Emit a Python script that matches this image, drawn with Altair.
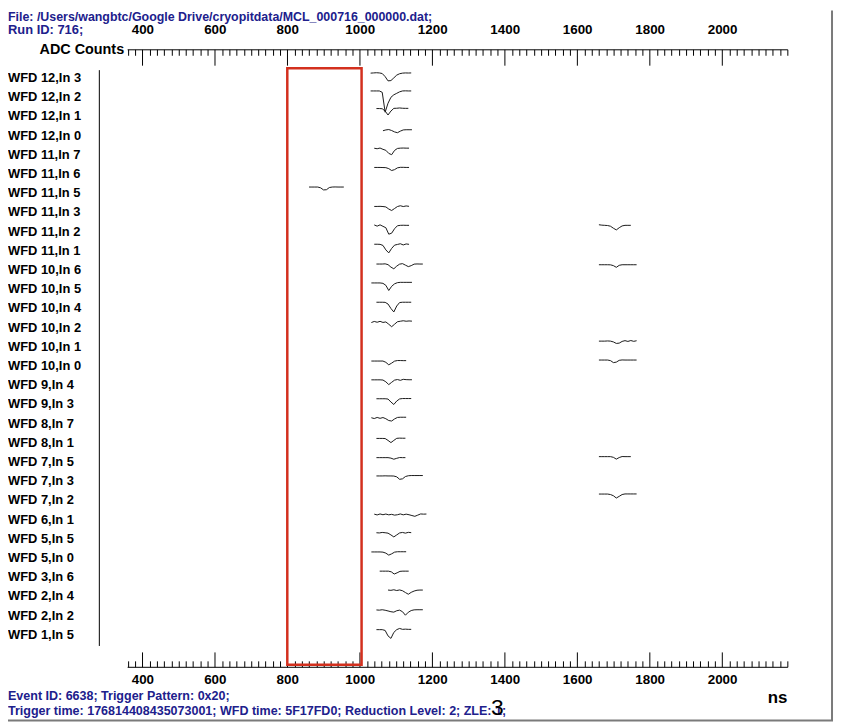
import altair as alt
import pandas as pd

# ---------------- data ----------------
CHANNELS = [
    "WFD 12,In 3", "WFD 12,In 2", "WFD 12,In 1", "WFD 12,In 0", "WFD 11,In 7",
    "WFD 11,In 6", "WFD 11,In 5", "WFD 11,In 3", "WFD 11,In 2", "WFD 11,In 1",
    "WFD 10,In 6", "WFD 10,In 5", "WFD 10,In 4", "WFD 10,In 2", "WFD 10,In 1",
    "WFD 10,In 0", "WFD 9,In 4", "WFD 9,In 3", "WFD 8,In 7", "WFD 8,In 1",
    "WFD 7,In 5", "WFD 7,In 3", "WFD 7,In 2", "WFD 6,In 1", "WFD 5,In 5",
    "WFD 5,In 0", "WFD 3,In 6", "WFD 2,In 4", "WFD 2,In 2", "WFD 1,In 5",
]

# which channel row each recorded waveform belongs to, and its first sample time (ns)
WF_ROW = [0, 1, 2, 3, 4, 5, 6, 7, 8, 8, 9, 10, 10, 11, 12, 13, 14, 15, 15, 16,
          17, 18, 19, 20, 20, 21, 22, 23, 24, 25, 26, 27, 28, 29]
WF_START = [1030, 1030, 1046, 1064, 1040, 1040, 860, 1040, 1040, 1660, 1040, 1046, 1660,
            1032, 1046, 1032, 1660, 1032, 1660, 1032, 1046, 1032, 1046, 1046, 1660, 1046,
            1660, 1040, 1046, 1032, 1055, 1078, 1046, 1046]
SAMPLE_NS = 8

# sample levels (ADC-like units, relative to each channel row)
WF_LEVELS = [
    [5.0, 5.2, 5.4, 5.2, 4.6, 1.5, -2.8, -2.5, 0.2, 3.0, 4.4, 5.0, 5.2, 5.1, 5.2],
    [6.4, 6.4, 6.4, 6.4, 5.0, -15.0, -6.0, 0.0, 2.5, 4.0, 5.5, 6.4, 6.5, 6.4, 6.4],
    [8.0, 8.0, 7.8, 5.5, 1.5, 5.5, 8.2, 8.3, 8.6, 8.3, 8.2, 8.2],
    [5.0, 5.8, 6.2, 5.2, 3.8, 3.0, 4.6, 5.8, 6.0, 6.0, 6.0],
    [6.7, 6.2, 6.9, 5.6, 4.6, 1.5, 0.2, 4.5, 6.5, 6.8, 6.9, 6.8, 6.8],
    [6.7, 6.7, 6.7, 6.6, 6.5, 5.5, 3.6, 4.5, 6.3, 6.8, 6.8, 6.7, 6.7],
    [6.3, 6.3, 6.3, 6.3, 5.5, 3.4, 3.6, 5.8, 6.3, 6.4, 6.3, 6.3, 6.3],
    [6.1, 6.1, 6.2, 6.0, 5.6, 3.5, 2.0, 4.0, 6.0, 6.8, 6.0, 6.6, 6.2],
    [6.8, 5.6, 6.9, 5.4, 4.0, -2.5, -1.5, 3.0, 6.0, 6.4, 6.5, 6.4, 6.4],
    [7.0, 6.6, 6.4, 6.2, 5.5, 3.5, 1.8, 4.0, 5.8, 6.4, 6.4, 6.4],
    [6.7, 6.7, 6.6, 5.5, 1.0, -2.0, 2.5, 5.8, 6.5, 7.2, 6.0, 7.0, 6.6],
    [6.1, 6.1, 6.1, 6.3, 5.5, 3.0, 1.3, 4.0, 6.0, 6.5, 5.0, 3.5, 4.5, 6.0, 6.2, 6.1, 6.1],
    [5.4, 5.4, 5.4, 5.4, 5.3, 4.5, 2.8, 4.8, 5.4, 5.4, 5.4, 5.4, 5.4, 5.4],
    [6.4, 6.4, 6.4, 6.4, 6.0, 4.0, -1.2, 3.0, 5.5, 6.7, 7.0, 7.0, 7.0, 7.0, 7.0],
    [6.3, 6.3, 6.3, 6.2, 4.5, 0.0, -3.5, 2.5, 6.0, 6.3, 6.3, 6.3, 6.3],
    [5.2, 6.3, 5.5, 6.4, 5.3, 5.8, 3.5, 1.0, 3.5, 6.0, 6.5, 7.0, 6.5, 6.8, 6.6],
    [5.8, 5.8, 5.8, 6.0, 5.8, 5.0, 3.5, 3.8, 5.5, 6.3, 5.5, 6.4, 5.6, 6.2],
    [5.1, 5.1, 5.1, 5.1, 5.1, 3.8, 1.3, 3.0, 5.0, 5.6, 5.6, 5.5, 5.5],
    [6.1, 6.1, 6.1, 6.1, 5.5, 3.5, 4.0, 5.8, 6.2, 6.1, 6.1, 6.1, 6.1, 6.1],
    [5.5, 5.5, 5.5, 5.5, 5.3, 3.5, 0.7, 3.0, 5.2, 5.8, 5.0, 6.0, 5.7, 5.6, 5.6],
    [5.8, 5.8, 5.8, 5.8, 5.5, 2.5, 0.0, 3.5, 5.6, 6.0, 6.0, 6.0, 6.0],
    [6.0, 5.2, 6.3, 5.4, 6.2, 5.0, 3.2, 2.7, 4.8, 6.3, 6.5, 6.5, 6.5],
    [4.5, 4.5, 4.5, 4.4, 2.5, 0.3, 2.5, 4.6, 4.8, 4.7, 4.7],
    [4.5, 4.5, 4.5, 4.5, 4.5, 4.0, 2.9, 3.8, 4.6, 4.5, 4.5],
    [5.5, 5.5, 5.5, 5.5, 5.5, 4.8, 3.0, 4.6, 5.6, 5.5, 5.5, 5.5],
    [5.4, 5.4, 5.4, 5.5, 5.4, 5.4, 5.3, 4.5, 2.0, 2.5, 4.8, 5.6, 5.8, 5.8, 5.8, 5.8, 5.8],
    [6.5, 6.5, 6.5, 6.5, 6.0, 4.8, 2.5, 4.2, 6.0, 6.6, 6.6, 6.6, 6.6, 6.6],
    [5.6, 4.8, 5.8, 5.0, 5.7, 4.9, 5.4, 4.6, 5.0, 5.8, 4.9, 5.6, 5.0, 4.2, 3.4, 4.6, 5.8, 5.6, 5.7],
    [6.2, 6.0, 6.5, 6.2, 5.8, 4.0, 2.0, 4.0, 6.0, 6.5, 5.8, 6.6, 6.3],
    [6.2, 6.2, 6.2, 6.2, 6.0, 5.0, 3.0, 4.3, 6.0, 6.4, 6.4, 6.4, 6.4],
    [6.2, 6.2, 6.2, 6.2, 5.5, 3.3, 4.5, 6.0, 6.2, 6.2, 6.2],
    [6.5, 6.2, 6.8, 6.0, 6.6, 5.8, 4.0, 2.3, 4.2, 5.5, 6.3, 6.5, 6.5],
    [5.8, 5.6, 6.0, 5.5, 4.8, 4.0, 3.6, 5.0, 5.6, 4.0, 0.5, 3.5, 5.2, 5.9, 6.0, 6.0, 6.0],
    [5.3, 5.3, 5.3, 4.5, -1.0, -3.5, 2.5, 5.3, 6.5, 5.6, 5.8, 5.6, 5.6],
]
LEVEL_PER_ROW = 19.34          # level units per channel row

WINDOW_NS = [800, 1005]        # red readout window
X_DOMAIN = [358, 2180]
TICK_NS = list(range(360, 2181, 20))
LABEL_NS = [400, 600, 800, 1000, 1200, 1400, 1600, 1800, 2000]

HEADER_1 = "File: /Users/wangbtc/Google Drive/cryopitdata/MCL_000716_000000.dat;"
HEADER_2 = "Run ID: 716;"
FOOTER_1 = "Event ID: 6638;  Trigger Pattern: 0x20;"
FOOTER_2 = "Trigger time: 176814408435073001; WFD time: 5F17FD0; Reduction Level: 2; ZLE: 1;"
Y_TITLE = "ADC Counts"
X_TITLE = "ns"
PAGE_NO = "3"

# ---------------- tables ----------------
recs = []
for i, (r, t0, lv) in enumerate(zip(WF_ROW, WF_START, WF_LEVELS)):
    for k, v in enumerate(lv):
        recs.append({"wf": i, "t": t0 + SAMPLE_NS * k, "pos": r - v / LEVEL_PER_ROW})
wave = pd.DataFrame(recs)
labels = pd.DataFrame({"channel": CHANNELS, "pos": list(range(len(CHANNELS)))})
window = pd.DataFrame({"start": [WINDOW_NS[0]], "end": [WINDOW_NS[1]]})

FONT = "Liberation Sans"
NAVY = "#20208c"
W, H = 665, 622

xs = alt.Scale(domain=X_DOMAIN, nice=False, zero=False)
ys = alt.Scale(domain=[-1.4995, 30.662], nice=False, zero=False, reverse=True)


def label_axis(orient, pad):
    return alt.Axis(orient=orient, values=LABEL_NS, domain=False, ticks=False, grid=False,
                    title=None, labelFont=FONT, labelFontSize=13.5, labelFontWeight="bold",
                    labelColor="black", labelPadding=pad, labelBaseline="alphabetic",
                    labelFlush=False, labelOverlap=False, format="d")


def tick_axis(orient, major):
    return alt.Axis(orient=orient, offset=-H, values=TICK_NS, labels=False, grid=False,
                    title=None, domain=True, domainColor="black", domainWidth=1,
                    ticks=True, tickColor="black", tickWidth=1,
                    tickSize={"condition": {"test": "datum.value % 200 === 0", "value": major},
                              "value": 6})


waves = alt.Chart(wave).mark_line(color="#1a1a1a", strokeWidth=1).encode(
    x=alt.X("t:Q", scale=xs, axis=label_axis("top", 16)),
    y=alt.Y("pos:Q", scale=ys, axis=None),
    detail="wf:N",
    order="t:Q",
)

box = alt.Chart(window).mark_rect(fillOpacity=0, stroke="#d3301e", strokeWidth=2.5).encode(
    x=alt.X("start:Q", scale=xs, axis=label_axis("bottom", 17)),
    x2="end:Q",
    y=alt.value(19),
    y2=alt.value(620),
)

top_ticks = alt.Chart(window).mark_point(opacity=0, size=1).encode(
    x=alt.X("start:Q", scale=xs, axis=tick_axis("bottom", 16)),
)
bottom_ticks = alt.Chart(window).mark_point(opacity=0, size=1).encode(
    x=alt.X("end:Q", scale=xs, axis=tick_axis("top", 15)),
)

row_labels = alt.Chart(labels).mark_text(
    align="left", baseline="middle", font=FONT, fontSize=13, fontWeight="bold", color="black"
).encode(
    x=alt.value(-120),
    y=alt.Y("pos:Q", scale=ys, axis=None),
    text="channel:N",
)

left_line = alt.Chart(window).mark_rule(color="black", strokeWidth=1).encode(
    x=alt.value(-28), y=alt.value(21), y2=alt.value(601)
)
right_frame = alt.Chart(window).mark_rule(color="#7a7a7a", strokeWidth=2).encode(
    x=alt.value(710), y=alt.value(-39), y2=alt.value(676)
)
bottom_frame = alt.Chart(window).mark_rule(color="#7a7a7a", strokeWidth=2).encode(
    x=alt.value(-120), x2=alt.value(711), y=alt.value(676)
)


def text_layer(s, x, y, size, color, weight="bold", align="left", font=FONT):
    return alt.Chart(pd.DataFrame({"s": [s]})).mark_text(
        align=align, baseline="middle", font=font, fontSize=size, fontWeight=weight, color=color
    ).encode(x=alt.value(x), y=alt.value(y), text="s:N")


texts = [
    text_layer(HEADER_1, -120, -33, 12.5, NAVY),
    text_layer(HEADER_2, -120, -19, 13, NAVY),
    text_layer(Y_TITLE, -3, 1, 14.5, "black", align="right"),
    text_layer(X_TITLE, 665, 653, 17, "black", align="right"),
    text_layer(FOOTER_1, -120, 651, 12.6, NAVY),
    text_layer(FOOTER_2, -120, 667, 12.6, NAVY),
    text_layer(PAGE_NO, 373, 664, 23, "black", weight="normal", align="center"),
]

chart = alt.layer(
    waves, box, top_ticks, bottom_ticks, row_labels, left_line, right_frame, bottom_frame, *texts
).resolve_scale(x="shared", y="shared").resolve_axis(x="independent").properties(
    width=W, height=H,
    autosize=alt.AutoSizeParams(type="none"),
    padding={"left": 120, "top": 39, "right": 47, "bottom": 55},
    background="white",
).configure_view(strokeWidth=0)

chart.save("out.html", embed_options={"renderer": "svg", "actions": False})
